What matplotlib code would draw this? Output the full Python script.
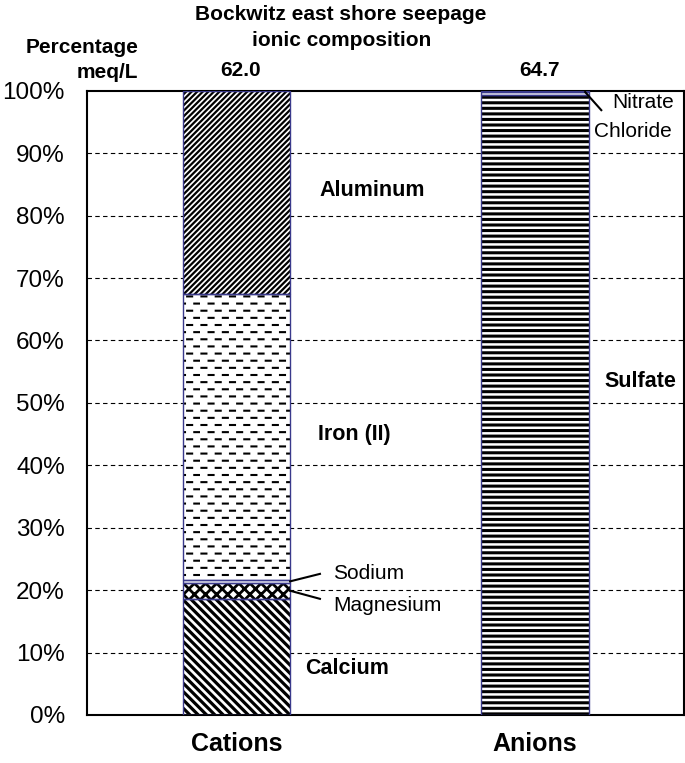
import numpy as np
import matplotlib
matplotlib.use("Agg")
import matplotlib.pyplot as plt
import matplotlib.hatch as mhatch
from matplotlib.path import Path

plt.rcParams['font.family'] = ['Liberation Sans', 'DejaVu Sans']
plt.rcParams['hatch.linewidth'] = 1.8

# data (percent of meq/L)
categories = ["Cations", "Anions"]
totals = [62.0, 64.7]
cation_names = ["Calcium", "Magnesium", "Sodium", "Iron (II)", "Aluminum"]
cation_pct = [18.6, 2.6, 0.4, 45.9, 32.5]
anion_names = ["Sulfate", "Chloride", "Nitrate"]
anion_pct = [99.4, 0.4, 0.2]


# staggered dashed rows as a hatch (takes over '|', which is not used otherwise)
class DashRows(mhatch.HatchPatternBase):
    def __init__(self, hatch, density):
        self.rows = hatch.count('|') * 7
        self.dashes = 7 if self.rows else 0
        self.num_vertices = self.rows * self.dashes * 2

    def set_vertices_and_codes(self, vertices, codes):
        k = 0
        for i in range(self.rows):
            y = (i + 0.5) / self.rows
            shift = 0.5 * (i % 2)
            for j in range(self.dashes):
                x0 = ((j + 0.1 + shift) / self.dashes) % 1.0
                vertices[k] = (x0, y)
                vertices[k + 1] = (x0 + 0.35 / self.dashes, y)
                codes[k] = Path.MOVETO
                codes[k + 1] = Path.LINETO
                k += 2


mhatch._hatch_types = [DashRows if h is mhatch.VerticalHatch else h
                       for h in mhatch._hatch_types]

# hatch pattern and hatch line width per segment
styles = {"Calcium": ("\\\\\\\\", 2.3), "Magnesium": ("xxx", 2.0),
          "Sodium": ("", 1.0), "Iron (II)": ("||", 1.5),
          "Aluminum": ("//////", 1.6), "Sulfate": ("---", 2.2),
          "Chloride": ("", 1.0), "Nitrate": ("", 1.0)}

edge = "#3a3a8c"

fig = plt.figure(figsize=(6.85, 7.63), dpi=100)
ax = fig.add_axes([0.127, 0.063, 0.872, 0.818])

width = 0.36


def stack(xpos, names, vals):
    bottom = 0
    for n, v in zip(names, vals):
        hatch, hlw = styles[n]
        with plt.rc_context({'hatch.linewidth': hlw}):
            bars = ax.bar(xpos, v, width, bottom=bottom, color="white",
                          edgecolor="black", hatch=hatch, linewidth=0, zorder=2)
            for b in bars:
                if hasattr(b, "set_hatch_linewidth"):
                    b.set_hatch_linewidth(hlw)
        ax.bar(xpos, v, width, bottom=bottom, fill=False, edgecolor=edge,
               linewidth=1.0, zorder=3)
        bottom += v


stack(0, cation_names, cation_pct)
stack(1, anion_names, anion_pct)

ax.set_xlim(-0.5, 1.5)
ax.set_ylim(0, 100)
ax.set_yticks(np.arange(0, 101, 10))
ax.set_yticklabels([f"{t}%" for t in range(0, 101, 10)], fontsize=17.5)
ax.set_xticks([0, 1])
ax.set_xticklabels(categories, fontsize=18, fontweight="bold")
ax.tick_params(axis="y", length=0, pad=16)
ax.tick_params(axis="x", length=0, pad=12)
for t in range(10, 100, 10):
    ax.axhline(t, color="black", linestyle=(0, (4, 3)), linewidth=0.8, zorder=1)
for s in ax.spines.values():
    s.set_linewidth(1.5)

# segment labels
bold = dict(fontsize=15.5, fontweight="bold", va="center")
plain = dict(fontsize=15, va="center")
ax.text(0.279, 84.1, "Aluminum", **bold)
ax.text(0.273, 45.0, "Iron (II)", **bold)
ax.text(0.229, 7.5, "Calcium", **bold)
ax.text(1.232, 53.4, "Sulfate", **bold)
ax.text(0.323, 22.6, "Sodium", **plain)
ax.text(0.323, 17.6, "Magnesium", **plain)
ax.text(1.259, 98.1, "Nitrate", **plain)
ax.text(1.199, 93.4, "Chloride", **plain)

ax.plot([0.18, 0.28], [21.4, 22.6], color="black", linewidth=1.5, zorder=4)
ax.plot([0.18, 0.28], [19.9, 18.6], color="black", linewidth=1.5, zorder=4)
ax.plot([1.168, 1.222], [99.8, 96.9], color="black", linewidth=1.5, zorder=4)

# totals above bars
for xpos, tot in zip([0, 1], totals):
    ax.text(xpos + 0.015, 101.8, f"{tot:.1f}", fontsize=15, fontweight="bold",
            ha="center", va="bottom")

fig.text(0.498, 0.994, "Bockwitz east shore seepage\nionic composition",
         fontsize=15, fontweight="bold", ha="center", va="top", linespacing=1.5)
fig.text(0.202, 0.893, "Percentage\nmeq/L", fontsize=15, fontweight="bold",
         ha="right", va="bottom", multialignment="right", linespacing=1.35)

fig.savefig("out.png", dpi=100)
